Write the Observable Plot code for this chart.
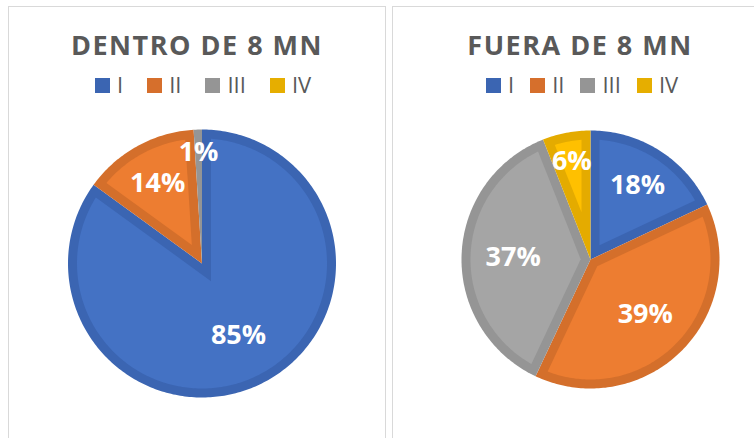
<!DOCTYPE html>
<html>
<head>
<meta charset="utf-8">
<script src="https://cdn.jsdelivr.net/npm/d3@7"></script>
<script src="https://cdn.jsdelivr.net/npm/@observablehq/plot@0.6"></script>
<style>
html, body { margin: 0; padding: 0; background: #fff; width: 754px; height: 438px; overflow: hidden; font-family: "Open Sans", sans-serif; }
#root { position: relative; width: 754px; height: 438px; overflow: hidden; }
.panel { position: absolute; top: 6px; height: 440px; border: 1px solid #d9d9d9; box-sizing: border-box; }
.title { position: absolute; top: 31px; text-align: center; font-weight: 700; font-size: 27px; line-height: 27px; letter-spacing: 1.5px; color: #595959; white-space: nowrap; }
.legend { position: absolute; top: 73px; height: 22px; display: flex; align-items: center; color: #595959; font-size: 22px; line-height: 22px; white-space: nowrap; }
.legend .item { display: flex; align-items: center; }
.legend .sw { width: 15px; height: 15px; margin-right: 7px; margin-top: 3px; }
.chart { position: absolute; top: 105px; }
.chart svg { display: block; }
</style>
</head>
<body>
<div id="root"></div>
<script>
// ---- data ----
const categories = ["I", "II", "III", "IV"];
const dentroValues = [85, 14, 1, 0];
const fueraValues = [18, 39, 37, 6];
const panelTitles = ["DENTRO DE 8 MN", "FUERA DE 8 MN"];

// ---- styles ----
const fillColors = ["#4472C4", "#ED7D31", "#A5A5A5", "#FFC000"];
const borderColors = ["#3B65B2", "#D46F2B", "#959595", "#E4AB00"];
const legendColors = ["#3B65B2", "#D66F2C", "#959595", "#E6AE00"];

const root = document.getElementById("root");

function pieMarks(values, radiusPx, borderPx) {
  const total = d3.sum(values);
  const arcs = d3.pie().sort(null).value(v => v)(values)
    .map((a, i) => ({...a, cat: categories[i], idx: i}))
    .filter(a => a.value > 0);
  const d = borderPx / radiusPx;
  const step = Math.PI / 180;
  const outer = [], inner = [], labels = [];
  for (const a of arcs) {
    const th = a.endAngle - a.startAngle;
    const n = Math.max(2, Math.ceil(th / step));
    outer.push({k: a.cat, x: 0, y: 0, c: borderColors[a.idx]});
    for (let j = 0; j <= n; j++) {
      const t = a.startAngle + th * j / n;
      outer.push({k: a.cat, x: Math.sin(t), y: Math.cos(t), c: borderColors[a.idx]});
    }
    const del = Math.asin(d / (1 - d));
    const ad = d / Math.sin(th / 2);
    const mid = a.startAngle + th / 2;
    if (th - 2 * del > 0.01 && ad < 1 - d) {
      inner.push({k: a.cat, x: ad * Math.sin(mid), y: ad * Math.cos(mid), c: fillColors[a.idx]});
      const s0 = a.startAngle + del, s1 = a.endAngle - del;
      const m = Math.max(2, Math.ceil((s1 - s0) / step));
      for (let j = 0; j <= m; j++) {
        const t = s0 + (s1 - s0) * j / m;
        inner.push({k: a.cat, x: (1 - d) * Math.sin(t), y: (1 - d) * Math.cos(t), c: fillColors[a.idx]});
      }
    }
    const share = a.value / total;
    const rf = share > 0.3 ? 0.6 : Math.max(0.68, 0.84 - 1.1 * share);
    labels.push({x: rf * Math.sin(mid), y: rf * Math.cos(mid), text: Math.round(share * 100) + "%"});
  }
  return [
    Plot.line(outer, {x: "x", y: "y", z: "k", fill: "c", stroke: "none", curve: "linear-closed"}),
    Plot.line(inner, {x: "x", y: "y", z: "k", fill: "c", stroke: "none", curve: "linear-closed"}),
    Plot.text(labels, {x: "x", y: "y", text: "text", fill: "white", fontSize: 27, fontWeight: "bold",
      fontFamily: "Open Sans", textAnchor: "middle", lineAnchor: "middle"})
  ];
}

function panel(opts) {
  const p = document.createElement("div");
  p.className = "panel";
  p.style.left = opts.panelLeft + "px";
  p.style.width = opts.panelWidth + "px";
  root.appendChild(p);

  const t = document.createElement("div");
  t.className = "title";
  t.style.left = opts.panelLeft + "px";
  t.style.width = opts.panelWidth + "px";
  t.textContent = opts.title;
  root.appendChild(t);

  const lg = document.createElement("div");
  lg.className = "legend";
  lg.style.left = opts.legendLeft + "px";
  categories.forEach((c, i) => {
    const it = document.createElement("div");
    it.className = "item";
    if (i < categories.length - 1) it.style.marginRight = opts.legendGap + "px";
    const sw = document.createElement("div");
    sw.className = "sw";
    sw.style.background = legendColors[i];
    const lab = document.createElement("span");
    lab.textContent = c;
    it.appendChild(sw); it.appendChild(lab);
    lg.appendChild(it);
  });
  root.appendChild(lg);

  const R = opts.r;
  const chart = Plot.plot({
    width: opts.svgWidth,
    height: opts.svgHeight,
    marginLeft: opts.cx - R,
    marginRight: opts.svgWidth - (opts.cx + R),
    marginTop: opts.cy - R,
    marginBottom: opts.svgHeight - (opts.cy + R),
    x: {domain: [-1, 1], axis: null},
    y: {domain: [-1, 1], axis: null},
    color: {type: "identity"},
    style: {background: "transparent", overflow: "visible"},
    marks: pieMarks(opts.values, R, opts.border)
  });
  const wrap = document.createElement("div");
  wrap.className = "chart";
  wrap.style.left = opts.svgLeft + "px";
  wrap.appendChild(chart);
  root.appendChild(wrap);
}

panel({
  title: panelTitles[0], values: dentroValues,
  panelLeft: 8, panelWidth: 378, legendLeft: 95, legendGap: 24,
  svgLeft: 8, svgWidth: 377, svgHeight: 333, cx: 193.5, cy: 158, r: 134, border: 9
});
panel({
  title: panelTitles[1], values: fueraValues,
  panelLeft: 392, panelWidth: 376, legendLeft: 486, legendGap: 16,
  svgLeft: 392, svgWidth: 362, svgHeight: 333, cx: 198, cy: 154, r: 129, border: 9
});
</script>
</body>
</html>
